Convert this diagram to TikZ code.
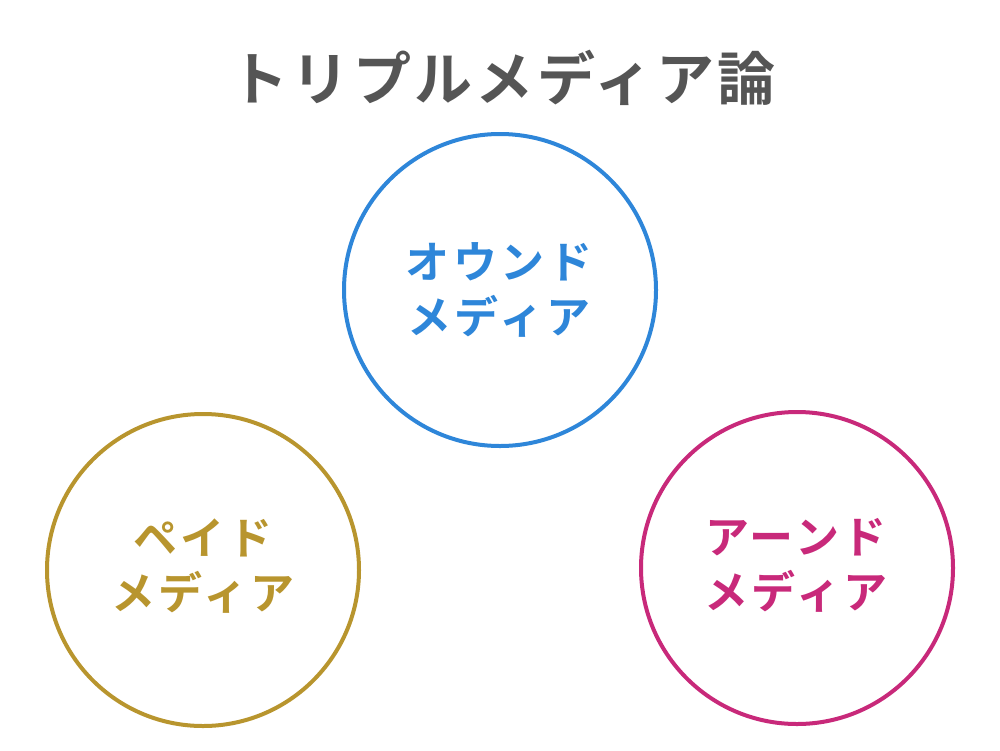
\documentclass[tikz,border=0pt]{standalone}
\usepackage{fontspec}
\newfontfamily\jpfont{Noto Sans CJK JP Bold}[LetterSpace=8]
\newfontfamily\jptitle{Noto Sans CJK JP Bold}[LetterSpace=6]
\definecolor{titlegray}{HTML}{555555}
\definecolor{ownedblue}{HTML}{2E86D9}
\definecolor{paidgold}{HTML}{B8952E}
\definecolor{earnedpink}{HTML}{C8297A}
\begin{document}
\begin{tikzpicture}[x=1pt,y=-1pt,
  ring/.style={circle, line width=4pt, minimum size=312pt, inner sep=0pt},
  label/.style={font=\jpfont\fontsize{44}{55}\selectfont, align=center}]
\useasboundingbox (0,0) rectangle (1000,750);
\node[font=\jptitle\fontsize{58}{60}\selectfont, text=titlegray] (title) at (503,78) {トリプルメディア論};
\node[ring, draw=ownedblue] (owned) at (500,290) {};
\node[ring, draw=paidgold] (paid) at (203,570) {};
\node[ring, draw=earnedpink] (earned) at (797,568) {};
\node[label, text=ownedblue] (ownedtxt) at (499,290) {オウンド\\メディア};
\node[label, text=paidgold] (paidtxt) at (203,566) {ペイド\\メディア};
\node[label, text=earnedpink] (earnedtxt) at (796,565) {アーンド\\メディア};
\end{tikzpicture}
\end{document}
